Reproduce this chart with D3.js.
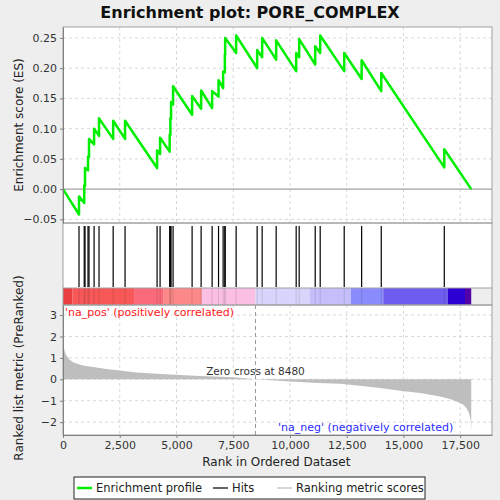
<!DOCTYPE html>
<html>
<head>
<meta charset="utf-8">
<script src="https://cdn.jsdelivr.net/npm/d3@7"></script>
<style>
  body { margin: 0; background: #eeeeee; }
  text { font-family: "DejaVu Sans", sans-serif; }
</style>
</head>
<body>
<div id="vis"></div>
<script>
// Enrichment plot rebuilt with d3

// hit positions in the ranked list (two pairs fall on the same pixel)
const HIT_RANKS = [705, 935, 970, 1102, 1146, 1370, 1587, 2210, 2734, 4145, 4277,
                   4700, 4730, 4760, 4850, 5688, 6085, 6570, 6852, 7054, 7130, 7143,
                   7628, 8553, 8774, 9391, 10273, 10405, 11111, 11331, 12389, 13157,
                   14021, 16798];
// running ES just before and just after each hit
const ES_BEFORE = [-0.042, -0.023, 0.005, 0.031, 0.053, 0.074, 0.088, 0.083, 0.083, 0.035, 0.058,
                   0.062, 0.089, 0.116, 0.140, 0.123, 0.133, 0.134, 0.153, 0.167, 0.193, 0.222,
                   0.225, 0.200, 0.218, 0.214, 0.195, 0.218, 0.206, 0.225, 0.195, 0.182,
                   0.162, 0.036];
const ES_AFTER = [-0.012, 0.006, 0.035, 0.054, 0.083, 0.100, 0.117, 0.113, 0.113, 0.064, 0.085,
                  0.090, 0.117, 0.144, 0.170, 0.154, 0.163, 0.162, 0.180, 0.194, 0.222, 0.250,
                  0.254, 0.230, 0.250, 0.246, 0.225, 0.248, 0.236, 0.254, 0.225, 0.213,
                  0.192, 0.066];
const N_GENES = 17985;
const ZERO_CROSS = 8480;

// ranked list metric
const METRIC_RANKS = [0, 75, 150, 295, 440, 590, 880, 1320, 1910, 2500, 3235, 4120, 5145, 6030,
                      7500, 8480, 10000, 11250, 12200, 13080, 13960, 14850, 15730, 16610,
                      17050, 17345, 17640, 17785, 17890, 17960, 17985];
const METRIC_VALUES = [1.72, 1.30, 1.11, 0.91, 0.80, 0.74, 0.65, 0.57, 0.48, 0.41, 0.32, 0.26, 0.20, 0.15,
                       0.10, 0.0, -0.10, -0.17, -0.21, -0.30, -0.41, -0.53, -0.64, -0.80,
                       -0.92, -1.03, -1.19, -1.35, -1.58, -1.89, -2.40];

// colour bar blocks (start ranks) and colours
const BAR_STARTS = [0, 415, 3130, 4410, 6115, 8480, 10875, 12680, 14110, 16950, 17710];
const BAR_COLORS = ["#ea3f40", "#f85858", "#fb6a7b", "#fd8888", "#fbbfe4", "#d7d5fb",
                    "#c4bffa", "#8a8cfd", "#6d5cee", "#2c00d2", "#5200a8"];

const ES_TICKS = [-0.05, 0, 0.05, 0.10, 0.15, 0.20, 0.25];
const METRIC_TICKS = [-2, -1, 0, 1, 2, 3];
const X_TICKS = [0, 2500, 5000, 7500, 10000, 12500, 15000, 17500];

const FRAME_WIDTH = 500;
const FRAME_HEIGHT = 500;
const LEFT = 63, RIGHT = 492;
const ES_TOP = 27, ES_BOTTOM = 223;
const HIT_TOP = 223, HIT_BOTTOM = 288;
const BAR_TOP = 288, BAR_BOTTOM = 305;
const MET_TOP = 305, MET_BOTTOM = 435;

const svg = d3.select("#vis")
              .append("svg")
                .attr("width", FRAME_WIDTH)
                .attr("height", FRAME_HEIGHT);

const X_SCALE = d3.scaleLinear().domain([0, 18900]).range([LEFT, RIGHT]);
const ES_SCALE = d3.scaleLinear().domain([-0.056, 0.268]).range([ES_BOTTOM, ES_TOP]);
const MET_SCALE = d3.scaleLinear().domain([-2.6, 3.47]).range([MET_BOTTOM, MET_TOP]);

// white panels
[[ES_TOP, ES_BOTTOM], [HIT_TOP, HIT_BOTTOM], [MET_TOP, MET_BOTTOM]].forEach((p) => {
    svg.append("rect")
        .attr("x", LEFT).attr("y", p[0])
        .attr("width", RIGHT - LEFT).attr("height", p[1] - p[0])
        .attr("fill", "white");
});

// grids
const gridColor = "#d8d8d8";
function vGrid(top, bottom) {
    svg.append("g").selectAll("line")
        .data(X_TICKS.slice(1))
        .enter().append("line")
            .attr("x1", (d) => X_SCALE(d)).attr("x2", (d) => X_SCALE(d))
            .attr("y1", top).attr("y2", bottom)
            .attr("stroke", gridColor).attr("stroke-dasharray", "3,3");
}
vGrid(ES_TOP, ES_BOTTOM);
vGrid(MET_TOP, MET_BOTTOM);

svg.append("g").selectAll("line")
    .data(ES_TICKS.filter((d) => d != 0))
    .enter().append("line")
        .attr("x1", LEFT).attr("x2", RIGHT)
        .attr("y1", (d) => ES_SCALE(d)).attr("y2", (d) => ES_SCALE(d))
        .attr("stroke", gridColor).attr("stroke-dasharray", "3,3");

svg.append("g").selectAll("line")
    .data(METRIC_TICKS)
    .enter().append("line")
        .attr("x1", LEFT).attr("x2", RIGHT)
        .attr("y1", (d) => MET_SCALE(d)).attr("y2", (d) => MET_SCALE(d))
        .attr("stroke", gridColor).attr("stroke-dasharray", "3,3");

// zero line of ES panel
svg.append("line")
    .attr("x1", LEFT).attr("x2", RIGHT)
    .attr("y1", ES_SCALE(0)).attr("y2", ES_SCALE(0))
    .attr("stroke", "#8c8c8c").attr("stroke-width", 1);

// enrichment profile path
let esPoints = [[0, 0]];
HIT_RANKS.forEach((r, i) => {
    esPoints.push([r, ES_BEFORE[i]]);
    esPoints.push([r, ES_AFTER[i]]);
});
esPoints.push([N_GENES, 0]);

svg.append("path")
    .datum(esPoints)
    .attr("d", d3.line().x((d) => X_SCALE(d[0])).y((d) => ES_SCALE(d[1])))
    .attr("fill", "none")
    .attr("stroke", "#00ee00")
    .attr("stroke-width", 2.5)
    .attr("stroke-linejoin", "round");

// colour bar
svg.append("g").selectAll("rect")
    .data(BAR_STARTS)
    .enter().append("rect")
        .attr("x", (d) => X_SCALE(d))
        .attr("y", BAR_TOP)
        .attr("width", (d, i) => X_SCALE(i < BAR_STARTS.length - 1 ? BAR_STARTS[i + 1] : N_GENES) - X_SCALE(d))
        .attr("height", BAR_BOTTOM - BAR_TOP)
        .attr("fill", (d, i) => BAR_COLORS[i]);

// hits
svg.append("g").selectAll("line")
    .data(HIT_RANKS)
    .enter().append("line")
        .attr("x1", (d) => X_SCALE(d)).attr("x2", (d) => X_SCALE(d))
        .attr("y1", 226).attr("y2", 287)
        .attr("stroke", "black").attr("stroke-width", 1.2);

svg.append("g").selectAll("line")
    .data(HIT_RANKS)
    .enter().append("line")
        .attr("x1", (d) => X_SCALE(d)).attr("x2", (d) => X_SCALE(d))
        .attr("y1", BAR_TOP).attr("y2", BAR_BOTTOM)
        .attr("stroke", "black").attr("stroke-opacity", 0.12).attr("stroke-width", 1);

// ranked metric area
svg.append("path")
    .datum(METRIC_RANKS.map((r, i) => [r, METRIC_VALUES[i]]))
    .attr("d", d3.area()
        .x((d) => X_SCALE(d[0]))
        .y0(MET_SCALE(0))
        .y1((d) => MET_SCALE(d[1])))
    .attr("fill", "#bebebe");

// zero cross marker
svg.append("line")
    .attr("x1", X_SCALE(ZERO_CROSS)).attr("x2", X_SCALE(ZERO_CROSS))
    .attr("y1", MET_TOP).attr("y2", MET_BOTTOM)
    .attr("stroke", "#999").attr("stroke-dasharray", "4,3");

svg.append("text")
    .attr("x", X_SCALE(ZERO_CROSS)).attr("y", 375)
    .attr("text-anchor", "middle")
    .attr("font-size", "10.5px").attr("fill", "#333")
    .text("Zero cross at " + ZERO_CROSS);

svg.append("text")
    .attr("x", 65).attr("y", 316)
    .attr("font-size", "11px").attr("fill", "#ff2020")
    .text("'na_pos' (positively correlated)");

svg.append("text")
    .attr("x", 278).attr("y", 431)
    .attr("font-size", "11px").attr("fill", "#2a2aff")
    .text("'na_neg' (negatively correlated)");

// panel borders
[[ES_TOP, ES_BOTTOM], [HIT_TOP, BAR_BOTTOM], [MET_TOP, MET_BOTTOM]].forEach((p) => {
    svg.append("rect")
        .attr("x", LEFT).attr("y", p[0])
        .attr("width", RIGHT - LEFT).attr("height", p[1] - p[0])
        .attr("fill", "none").attr("stroke", "#a0a0a0");
});
svg.append("line")
    .attr("x1", LEFT).attr("x2", RIGHT).attr("y1", BAR_TOP).attr("y2", BAR_TOP)
    .attr("stroke", "#a0a0a0");

// axes
function styleAxis(g) {
    g.select(".domain").attr("stroke", "#808080");
    g.selectAll(".tick line").attr("stroke", "#808080");
    g.selectAll(".tick text").attr("fill", "#333").attr("font-family", "DejaVu Sans");
}

svg.append("g")
    .attr("transform", "translate(" + LEFT + ",0)")
    .call(d3.axisLeft(ES_SCALE).tickValues(ES_TICKS).tickFormat(d3.format(".2f")).tickSize(3).tickSizeOuter(0))
    .attr("font-size", "11px")
    .call(styleAxis);

svg.append("g")
    .attr("transform", "translate(" + LEFT + ",0)")
    .call(d3.axisLeft(MET_SCALE).tickValues(METRIC_TICKS).tickFormat(d3.format("d")).tickSize(3).tickSizeOuter(0))
    .attr("font-size", "11px")
    .call(styleAxis);

svg.append("g")
    .attr("transform", "translate(0," + MET_BOTTOM + ")")
    .call(d3.axisBottom(X_SCALE).tickValues(X_TICKS).tickFormat(d3.format(",")).tickSize(3).tickSizeOuter(0))
    .attr("font-size", "11px")
    .call(styleAxis);

// titles
svg.append("text")
    .attr("x", 250).attr("y", 18)
    .attr("text-anchor", "middle")
    .attr("font-size", "16px").attr("font-weight", "bold").attr("fill", "#111")
    .text("Enrichment plot: PORE_COMPLEX");

svg.append("text")
    .attr("transform", "translate(23," + ((ES_TOP + ES_BOTTOM) / 2) + ") rotate(-90)")
    .attr("text-anchor", "middle")
    .attr("font-size", "12px").attr("fill", "#222")
    .text("Enrichment score (ES)");

svg.append("text")
    .attr("transform", "translate(23," + ((MET_TOP + MET_BOTTOM) / 2 - 2) + ") rotate(-90)")
    .attr("text-anchor", "middle")
    .attr("font-size", "12px").attr("fill", "#222")
    .text("Ranked list metric (PreRanked)");

svg.append("text")
    .attr("x", X_SCALE(9400)).attr("y", 466)
    .attr("text-anchor", "middle")
    .attr("font-size", "12px").attr("fill", "#222")
    .text("Rank in Ordered Dataset");

// legend
const legend = svg.append("g");
legend.append("rect")
    .attr("x", 74).attr("y", 477).attr("width", 351).attr("height", 22)
    .attr("fill", "white").attr("stroke", "#222");
const LEGEND_ITEMS = [
    {label: "Enrichment profile", color: "#00ee00", width: 2.5, x: 77},
    {label: "Hits", color: "black", width: 1.2, x: 213},
    {label: "Ranking metric scores", color: "#bebebe", width: 1.2, x: 277}
];
LEGEND_ITEMS.forEach((d) => {
    legend.append("line")
        .attr("x1", d.x).attr("x2", d.x + 15)
        .attr("y1", 488).attr("y2", 488)
        .attr("stroke", d.color).attr("stroke-width", d.width);
    legend.append("text")
        .attr("x", d.x + 19).attr("y", 492)
        .attr("font-size", "11.5px").attr("fill", "#222")
        .text(d.label);
});
</script>
</body>
</html>
